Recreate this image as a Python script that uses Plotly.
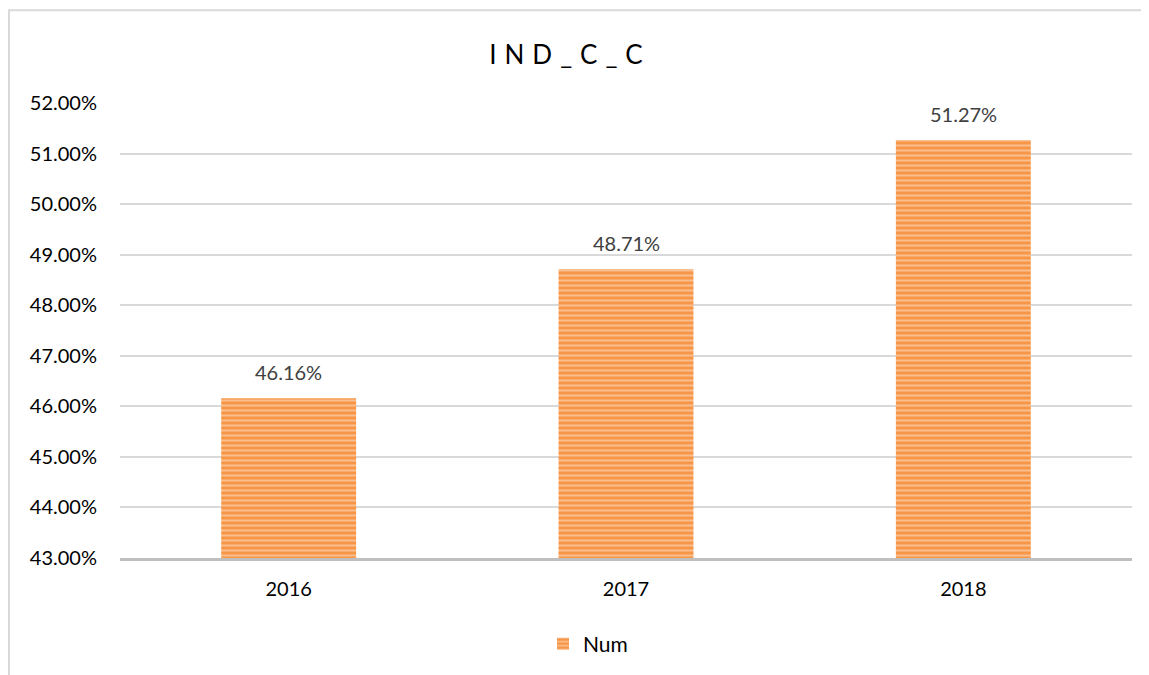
import plotly.graph_objects as go

categories = ["2016", "2017", "2018"]
values = [0.4616, 0.4871, 0.5127]
series_name = "Num"
title_text = "IND_C_C"

OFF = 8  # default page body margin
W, H = 1149 - OFF, 675 - OFF
ml, mr, mt, mb = 120 - OFF, 17, 103 - OFF, 116
pw, ph = W - ml - mr, H - mt - mb
FONT = "Lato, Noto Sans, sans-serif"

fig = go.Figure()
fig.add_trace(go.Bar(
    x=categories, y=values, name=series_name,
    marker=dict(
        color="#F79646",
        line=dict(width=0),
        pattern=dict(shape="-", bgcolor="#F79646", fgcolor="#FEE8D8",
                     size=5, solidity=0.4, fillmode="overlay"),
    ),
))

for i, v in enumerate(values):
    fig.add_annotation(x=i, y=v, xref="x", yref="y", text=f"{v:.2%}", showarrow=False,
                       yanchor="bottom", yshift=12,
                       font=dict(family=FONT, size=20, color="#404040"))

# outer chart border (light gray box, extends past right/bottom edges)
fig.add_shape(type="rect", xref="paper", yref="paper",
              x0=(9 - OFF - ml) / pw, x1=(W + 20 - ml) / pw,
              y0=-(H + 20 - mt - ph) / ph, y1=1 + (mt - (10 - OFF)) / ph,
              line=dict(color="#D9D9D9", width=2), fillcolor="rgba(0,0,0,0)",
              layer="below")

legend_center_px = 588 - OFF
fig.update_layout(
    width=W, height=H,
    margin=dict(l=ml, r=mr, t=mt, b=mb),
    paper_bgcolor="white", plot_bgcolor="white",
    bargap=0.6,
    showlegend=True,
    title=dict(text=f'<span style="letter-spacing:8px">{title_text}</span>',
               x=(570 - OFF) / W, xanchor="center",
               y=1 - (55 - OFF) / H, yanchor="middle",
               font=dict(family=FONT, size=26, color="#000000")),
    legend=dict(orientation="h", x=(legend_center_px - ml) / pw, xanchor="center",
                y=-(644 - OFF - mt - ph) / ph, yanchor="middle",
                font=dict(family=FONT, size=21, color="#000000"),
                bgcolor="rgba(0,0,0,0)", itemsizing="constant"),
    font=dict(family=FONT),
)
fig.update_yaxes(range=[0.43, 0.52], dtick=0.01, tick0=0.43, tickformat=".2%",
                 showgrid=True, gridcolor="#D9D9D9", gridwidth=1.5,
                 zeroline=False, showline=False, ticks="",
                 tickfont=dict(size=20, color="#000000"), ticklabelstandoff=22)
fig.update_xaxes(type="category", categoryorder="array", categoryarray=categories,
                 range=[-0.5, len(categories) - 0.5],
                 showline=True, linecolor="#BFBFBF", linewidth=3,
                 ticks="", tickfont=dict(size=20, color="#000000"),
                 ticklabelstandoff=11)

fig.write_html("out.html")
